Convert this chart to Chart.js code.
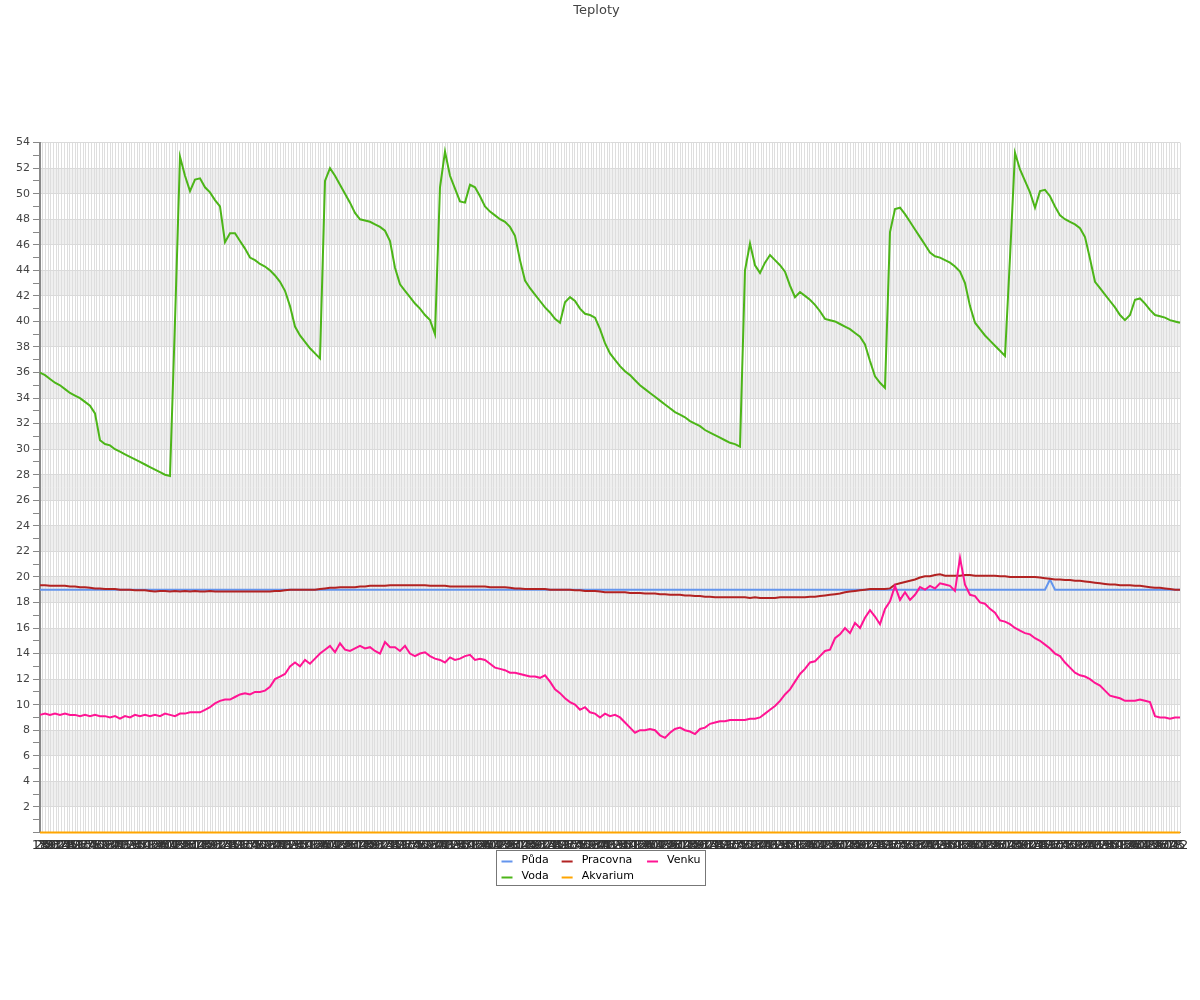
<!DOCTYPE html>
<html>
<head>
<meta charset="utf-8">
<title>Teploty</title>
<script src="https://cdn.jsdelivr.net/npm/chart.js@4.4.1/dist/chart.umd.min.js"></script>
<style>
  html, body { margin: 0; padding: 0; background: #fff; }
  #wrap { width: 1200px; height: 1000px; }
</style>
</head>
<body>
<div id="wrap"><canvas id="teploty-chart" width="1200" height="1000"></canvas></div>
<script>
// Values, one sample every ~5 px of the plot
const voda = [
  36.0,35.8,35.5,35.2,35.0,34.7,34.4,34.2,34.0,33.7,
  33.4,32.8,30.7,30.4,30.3,30.0,29.8,29.6,29.4,29.2,
  29.0,28.8,28.6,28.4,28.2,28.0,27.9,40.0,52.9,51.4,
  50.2,51.1,51.2,50.5,50.1,49.5,49.0,46.2,46.9,46.9,
  46.3,45.7,45.0,44.8,44.5,44.3,44.0,43.6,43.1,42.4,
  41.2,39.6,38.9,38.4,37.9,37.5,37.1,51.0,52.0,51.4,
  50.7,50.0,49.3,48.5,48.0,47.9,47.8,47.6,47.4,47.1,
  46.3,44.2,42.9,42.4,41.9,41.4,41.0,40.5,40.1,39.0,
  50.5,53.3,51.4,50.4,49.4,49.3,50.7,50.5,49.8,49.0,
  48.6,48.3,48.0,47.8,47.4,46.7,44.8,43.2,42.6,42.1,
  41.6,41.1,40.7,40.2,39.9,41.5,41.9,41.6,41.0,40.6,
  40.5,40.3,39.4,38.3,37.5,37.0,36.5,36.1,35.8,35.4,
  35.0,34.7,34.4,34.1,33.8,33.5,33.2,32.9,32.7,32.5,
  32.2,32.0,31.8,31.5,31.3,31.1,30.9,30.7,30.5,30.4,
  30.2,44.0,46.1,44.4,43.8,44.6,45.2,44.8,44.4,43.9,
  42.8,41.9,42.3,42.0,41.7,41.3,40.8,40.2,40.1,40.0,
  39.8,39.6,39.4,39.1,38.8,38.2,36.9,35.7,35.2,34.8,
  47.0,48.8,48.9,48.4,47.8,47.2,46.6,46.0,45.4,45.1,
  45.0,44.8,44.6,44.3,43.9,43.0,41.2,39.9,39.4,38.9,
  38.5,38.1,37.7,37.3,45.0,53.2,51.9,51.0,50.1,48.9,
  50.2,50.3,49.8,49.0,48.3,48.0,47.8,47.6,47.3,46.6,
  44.9,43.1,42.6,42.1,41.6,41.1,40.5,40.1,40.5,41.7,
  41.8,41.4,40.9,40.5,40.4,40.3,40.1,40.0,39.9
];

const venku = [
  9.2,9.3,9.2,9.3,9.2,9.3,9.2,9.2,9.1,9.2,
  9.1,9.2,9.1,9.1,9.0,9.1,8.9,9.1,9.0,9.2,
  9.1,9.2,9.1,9.2,9.1,9.3,9.2,9.1,9.3,9.3,
  9.4,9.4,9.4,9.6,9.8,10.1,10.3,10.4,10.4,10.6,
  10.8,10.9,10.8,11.0,11.0,11.1,11.4,12.0,12.2,12.4,
  13.0,13.3,13.0,13.5,13.2,13.6,14.0,14.3,14.6,14.1,
  14.8,14.3,14.2,14.4,14.6,14.4,14.5,14.2,14.0,14.9,
  14.5,14.5,14.2,14.6,14.0,13.8,14.0,14.1,13.8,13.6,
  13.5,13.3,13.7,13.5,13.6,13.8,13.9,13.5,13.6,13.5,
  13.2,12.9,12.8,12.7,12.5,12.5,12.4,12.3,12.2,12.2,
  12.1,12.3,11.8,11.2,10.9,10.5,10.2,10.0,9.6,9.8,
  9.4,9.3,9.0,9.3,9.1,9.2,9.0,8.6,8.2,7.8,
  8.0,8.0,8.1,8.0,7.6,7.4,7.8,8.1,8.2,8.0,
  7.9,7.7,8.1,8.2,8.5,8.6,8.7,8.7,8.8,8.8,
  8.8,8.8,8.9,8.9,9.0,9.3,9.6,9.9,10.3,10.8,
  11.2,11.8,12.4,12.8,13.3,13.4,13.8,14.2,14.3,15.2,
  15.5,16.0,15.6,16.4,16.0,16.8,17.4,16.9,16.3,17.5,
  18.1,19.3,18.2,18.8,18.2,18.6,19.2,19.0,19.3,19.1,
  19.5,19.4,19.3,18.9,21.5,19.4,18.6,18.5,18.0,17.9,
  17.5,17.2,16.6,16.5,16.3,16.0,15.8,15.6,15.5,15.2,
  15.0,14.7,14.4,14.0,13.8,13.3,12.9,12.5,12.3,12.2,
  12.0,11.7,11.5,11.1,10.7,10.6,10.5,10.3,10.3,10.3,
  10.4,10.3,10.2,9.1,9.0,9.0,8.9,9.0,9.0
];

const pracovna = [
  19.35,19.35,19.3,19.3,19.3,19.3,19.25,19.25,19.2,19.2,
  19.15,19.1,19.1,19.05,19.05,19.05,19.0,19.0,19.0,18.95,
  18.95,18.95,18.9,18.85,18.9,18.9,18.85,18.9,18.85,18.9,
  18.85,18.9,18.85,18.85,18.9,18.85,18.85,18.85,18.85,18.85,
  18.85,18.85,18.85,18.85,18.85,18.85,18.85,18.9,18.9,18.95,
  19.0,19.0,19.0,19.0,19.0,19.0,19.05,19.1,19.15,19.15,
  19.2,19.2,19.2,19.2,19.25,19.25,19.3,19.3,19.3,19.3,
  19.35,19.35,19.35,19.35,19.35,19.35,19.35,19.35,19.3,19.3,
  19.3,19.3,19.25,19.25,19.25,19.25,19.25,19.25,19.25,19.25,
  19.2,19.2,19.2,19.2,19.15,19.1,19.1,19.05,19.05,19.05,
  19.05,19.05,19.0,19.0,19.0,19.0,19.0,18.95,18.95,18.9,
  18.9,18.9,18.85,18.8,18.8,18.8,18.8,18.8,18.75,18.75,
  18.75,18.7,18.7,18.7,18.65,18.65,18.6,18.6,18.6,18.55,
  18.55,18.5,18.5,18.45,18.45,18.4,18.4,18.4,18.4,18.4,
  18.4,18.4,18.35,18.4,18.35,18.35,18.35,18.35,18.4,18.4,
  18.4,18.4,18.4,18.4,18.45,18.45,18.5,18.55,18.6,18.65,
  18.7,18.8,18.85,18.9,18.95,19.0,19.05,19.05,19.05,19.05,
  19.1,19.4,19.5,19.6,19.7,19.8,19.95,20.05,20.05,20.15,
  20.2,20.1,20.1,20.1,20.1,20.15,20.15,20.1,20.1,20.1,
  20.1,20.1,20.05,20.05,20.0,20.0,20.0,20.0,20.0,20.0,
  19.95,19.9,19.85,19.8,19.8,19.75,19.75,19.7,19.7,19.65,
  19.6,19.55,19.5,19.45,19.4,19.4,19.35,19.35,19.35,19.3,
  19.3,19.25,19.2,19.15,19.15,19.1,19.05,19.0,19.0
];

const puda = [
  19,19,19,19,19,19,19,19,19,19, 19,19,19,19,19,19,19,19,19,19,
  19,19,19,19,19,19,19,19,19,19, 19,19,19,19,19,19,19,19,19,19,
  19,19,19,19,19,19,19,19,19,19, 19,19,19,19,19,19,19,19,19,19,
  19,19,19,19,19,19,19,19,19,19, 19,19,19,19,19,19,19,19,19,19,
  19,19,19,19,19,19,19,19,19,19, 19,19,19,19,19,19,19,19,19,19,
  19,19,19,19,19,19,19,19,19,19, 19,19,19,19,19,19,19,19,19,19,
  19,19,19,19,19,19,19,19,19,19, 19,19,19,19,19,19,19,19,19,19,
  19,19,19,19,19,19,19,19,19,19, 19,19,19,19,19,19,19,19,19,19,
  19,19,19,19,19,19,19,19,19,19, 19,19,19,19,19,19,19,19,19,19,
  19,19,19,19,19,19,19,19,19,19, 19,19,19,19,19,19,19,19,19,19,
  19,19,19.8,19,19,19,19,19,19,19, 19,19,19,19,19,19,19,19,19,19,
  19,19,19,19,19,19,19,19,19
];

const akvarium = [
  0,0,0,0,0,0,0,0,0,0, 0,0,0,0,0,0,0,0,0,0,
  0,0,0,0,0,0,0,0,0,0, 0,0,0,0,0,0,0,0,0,0,
  0,0,0,0,0,0,0,0,0,0, 0,0,0,0,0,0,0,0,0,0,
  0,0,0,0,0,0,0,0,0,0, 0,0,0,0,0,0,0,0,0,0,
  0,0,0,0,0,0,0,0,0,0, 0,0,0,0,0,0,0,0,0,0,
  0,0,0,0,0,0,0,0,0,0, 0,0,0,0,0,0,0,0,0,0,
  0,0,0,0,0,0,0,0,0,0, 0,0,0,0,0,0,0,0,0,0,
  0,0,0,0,0,0,0,0,0,0, 0,0,0,0,0,0,0,0,0,0,
  0,0,0,0,0,0,0,0,0,0, 0,0,0,0,0,0,0,0,0,0,
  0,0,0,0,0,0,0,0,0,0, 0,0,0,0,0,0,0,0,0,0,
  0,0,0,0,0,0,0,0,0,0, 0,0,0,0,0,0,0,0,0,0,
  0,0,0,0,0,0,0,0,0
];

const seriesNames = ['Půda', 'Voda', 'Pracovna', 'Akvarium', 'Venku'];
const seriesColors = ['#6495ed', '#4cb518', '#b22222', '#ffa500', '#ff1493'];

// sample slots for the data axis
const sampleLabels = voda.map((_, i) => String(i));

// the dense time ticks under the plot (unreadable in the original, they run together)
const tickCount = 423;
const timeTicks = [];
for (let i = 0; i < tickCount; i++) {
    timeTicks.push(String((i * 7 + 18) % 60).padStart(2, '0'));
}

const yTickLabels = [2, 4, 6, 8, 10, 12, 14, 16, 18, 20, 22, 24, 26, 28, 30, 32, 34, 36, 38, 40, 42, 44, 46, 48, 50, 52, 54];

[puda, pracovna, venku, akvarium].forEach((arr, i) => {
    if (arr.length !== voda.length) {
        throw new Error('series ' + i + ' has ' + arr.length + ' values, expected ' + voda.length);
    }
});

const FONT = '"DejaVu Sans", "Liberation Sans", sans-serif';
Chart.defaults.font.family = FONT;

// alternating grey bands every 2 degrees, under the grid
const bandPlugin = {
    id: 'bands',
    beforeDraw(chart) {
        const ctx = chart.ctx;
        const area = chart.chartArea;
        const y = chart.scales.y;
        ctx.save();
        ctx.fillStyle = '#ffffff';
        ctx.fillRect(0, 0, chart.width, chart.height);
        ctx.fillStyle = '#efefef';
        for (let v = 2; v < y.max; v += 4) {
            const top = y.getPixelForValue(v + 2);
            const bottom = y.getPixelForValue(v);
            ctx.fillRect(area.left, top, area.right - area.left, bottom - top);
        }
        ctx.restore();
    }
};

// boxed legend, filled column by column (2 rows)
const boxLegendPlugin = {
    id: 'boxLegend',
    afterDraw(chart) {
        const ctx = chart.ctx;
        const sets = chart.data.datasets;
        const rows = 2;
        const cols = Math.ceil(sets.length / rows);
        const marker = 11, gap = 9, colGap = 13, pad = 5, rowH = 16;

        ctx.save();
        ctx.font = '11px ' + FONT;
        const colW = [];
        for (let c = 0; c < cols; c++) {
            let w = 0;
            for (let r = 0; r < rows; r++) {
                const ds = sets[c * rows + r];
                if (ds) w = Math.max(w, ctx.measureText(ds.label).width);
            }
            colW.push(marker + gap + w);
        }
        const total = colW.reduce((a, b) => a + b, 0) + colGap * (cols - 1) + pad * 2;
        const left = Math.round(chart.width / 2 - total / 2) + 0.5;
        const top = Math.round(chart.chartArea.bottom + 18) + 0.5;
        const height = rowH * rows + 3;

        ctx.strokeStyle = '#777';
        ctx.lineWidth = 1;
        ctx.strokeRect(left, top, Math.round(total), height);

        let x = left + pad;
        for (let c = 0; c < cols; c++) {
            for (let r = 0; r < rows; r++) {
                const ds = sets[c * rows + r];
                if (!ds) continue;
                const cy = top + 10 + r * rowH;
                ctx.strokeStyle = ds.borderColor;
                ctx.lineWidth = 2;
                ctx.beginPath();
                ctx.moveTo(x, cy + 1);
                ctx.lineTo(x + marker, cy + 1);
                ctx.stroke();
                ctx.fillStyle = '#000';
                ctx.textBaseline = 'middle';
                ctx.textAlign = 'left';
                ctx.fillText(ds.label, x + marker + gap, cy);
            }
            x += colW[c] + colGap;
        }
        ctx.restore();
    }
};

const seriesData = [puda, voda, pracovna, akvarium, venku];

const chart = new Chart(document.getElementById('teploty-chart'), {
    type: 'line',
    data: {
        labels: sampleLabels,
        datasets: seriesNames.map((name, i) => ({
            label: name,
            data: seriesData[i],
            borderColor: seriesColors[i],
            backgroundColor: seriesColors[i],
            borderWidth: 2,
            pointRadius: 0,
            tension: 0,
            fill: false,
            clip: false,
            order: seriesNames.length - i
        }))
    },
    options: {
        responsive: false,
        animation: false,
        devicePixelRatio: 1,
        events: [],
        layout: {
            padding: { top: 0, left: 13, right: 20, bottom: 142 }
        },
        plugins: {
            title: {
                display: true,
                text: 'Teploty',
                color: '#444',
                font: { family: FONT, size: 13, weight: 'normal' },
                padding: { top: 3, bottom: 124 }
            },
            legend: { display: false },
            tooltip: { enabled: false }
        },
        scales: {
            x: {
                type: 'category',
                display: false,
                offset: false
            },
            xg: {
                type: 'category',
                labels: timeTicks,
                position: 'bottom',
                offset: false,
                grid: { color: '#dedede', lineWidth: 1, drawTicks: false },
                border: { color: '#888', width: 1 },
                ticks: {
                    autoSkip: false,
                    maxRotation: 0,
                    minRotation: 0,
                    padding: 5,
                    color: '#333',
                    font: { family: FONT, size: 13 }
                }
            },
            y: {
                min: 0,
                max: 54,
                ticks: {
                    stepSize: 1,
                    autoSkip: false,
                    padding: 3,
                    color: '#444',
                    font: { family: FONT, size: 11 },
                    callback: (v) => yTickLabels.includes(v) ? String(v) : ''
                },
                grid: {
                    color: (c) => (c.tick && yTickLabels.includes(c.tick.value)) ? '#dadada' : 'rgba(0,0,0,0)',
                    tickColor: '#888',
                    tickLength: 7
                },
                border: { color: '#888', width: 2 }
            }
        }
    },
    plugins: [bandPlugin, boxLegendPlugin]
});
</script>
</body>
</html>
